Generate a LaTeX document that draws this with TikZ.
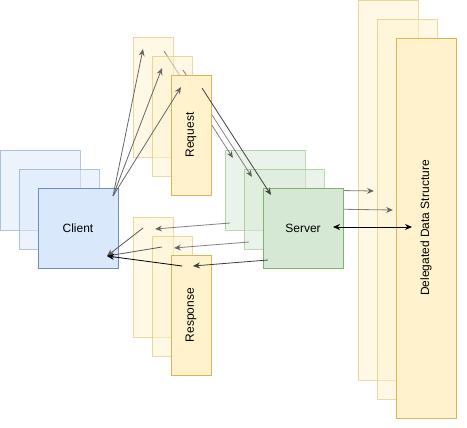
\documentclass[tikz,border=0pt]{standalone}
\usepackage{fontspec}
\setmainfont{Liberation Sans}
\usepackage{xcolor}
\usetikzlibrary{arrows.meta,calc}
\definecolor{cliFill}{HTML}{DAE8FC}
\definecolor{cliDraw}{HTML}{6C8EBF}
\definecolor{msgFill}{HTML}{FFF2CC}
\definecolor{msgDraw}{HTML}{D6B656}
\definecolor{srvFill}{HTML}{D5E8D4}
\definecolor{srvDraw}{HTML}{82B366}
\tikzset{
  box/.style       = {rectangle, line width=0.8pt, inner sep=0pt, outer sep=0pt, anchor=north west},
  clientbox/.style = {box, draw=cliDraw, fill=cliFill, minimum width=80pt, minimum height=80pt},
  msgbox/.style    = {box, draw=msgDraw, fill=msgFill, minimum width=40pt, minimum height=120pt},
  srvbox/.style    = {box, draw=srvDraw, fill=srvFill, minimum width=80pt, minimum height=80pt},
  storebox/.style  = {box, draw=msgDraw, fill=msgFill, minimum width=60pt, minimum height=380pt},
  faded/.style     = {opacity=0.5},
  flow/.style      = {-{Stealth[length=7pt,width=6pt]}, line width=0.8pt, black!75},
  weakflow/.style  = {flow, opacity=0.65},
  lbl/.style       = {font=\fontsize{12}{14}\selectfont, inner sep=0pt},
}
\begin{document}
\begin{tikzpicture}[x=1pt, y=-1pt]
\useasboundingbox (0,0) rectangle (467,428);

% back and middle copies (faded)
\foreach \k in {0,1} {
  \pgfmathsetmacro{\d}{19*\k}
  \node[clientbox, faded] (client\k) at (\d, 150+\d) {};
  \node[msgbox, faded]    (req\k)    at (133+\d, 37+\d) {};
  \node[msgbox, faded]    (resp\k)   at (133+\d, 217+\d) {};
  \node[srvbox, faded]    (srv\k)    at (225+\d, 150+\d) {};
  \node[storebox, faded]  (store\k)  at (358+\d, \d) {};
  \draw[weakflow] ([shift={(31,14)}]req\k.north west) -- ([shift={(8,8)}]srv\k.north west);
  \draw[weakflow] ([shift={(5,73)}]srv\k.north west) -- ([shift={(22,12)}]resp\k.north west);
  \draw[weakflow] (srv\k.east) -- ([shift={(16,191)}]store\k.north west);
}

% front copy
\node[clientbox] (client2) at (38, 188) {};
\node[msgbox]    (req2)    at (171, 75) {};
\node[msgbox]    (resp2)   at (171, 255) {};
\node[srvbox]    (srv2)    at (263, 188) {};
\node[storebox]  (store2)  at (396, 38) {};

\node[lbl] (clientlbl) at (client2.center) {Client};
\node[lbl, rotate=90] (reqlbl) at (req2.center) {Request};
\node[lbl, rotate=90] (resplbl) at (resp2.center) {Response};
\node[lbl] (srvlbl) at (srv2.center) {Server};
\node[lbl, rotate=90] (storelbl) at (store2.center) {Delegated Data Structure};

\draw[flow] ([shift={(31,13)}]req2.north west) -- ([shift={(8,7)}]srv2.north west);
\draw[flow] ([shift={(5,72)}]srv2.north west) -- ([shift={(22,11)}]resp2.north west);
\draw[{Stealth[length=7pt,width=6pt]}-{Stealth[length=7pt,width=6pt]}, line width=0.8pt, black]
  ([shift={(70,39)}]srv2.north west) -- ([shift={(16,189)}]store2.north west);

% client fans out to the requests
\coordinate (fan) at ([shift={(75,8)}]client2.north west);
\foreach \k in {0,1,2}
  \draw[flow, black!60] (fan) -- ([shift={(10,12)}]req\k.north west);

% responses come back to the client
\coordinate (sink) at ([shift={(69,68)}]client2.north west);
\foreach \k in {0,1}
  \draw[flow, black!65] ([shift={(10,11)}]resp\k.north west) -- (sink);
\draw[flow, black] ([shift={(11,11)}]resp2.north west) -- (sink);
\end{tikzpicture}
\end{document}
